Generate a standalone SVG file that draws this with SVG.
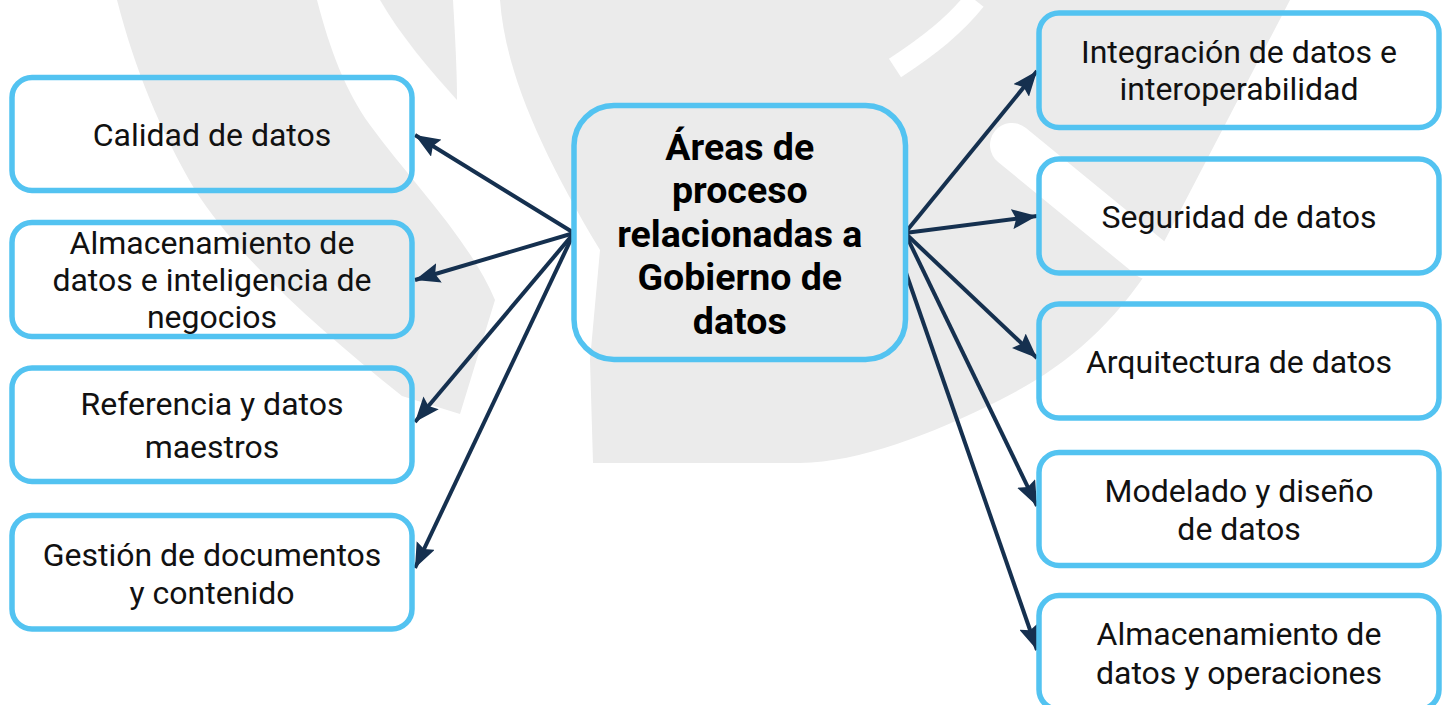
<svg xmlns="http://www.w3.org/2000/svg" width="1449" height="705" viewBox="0 0 1449 705">
  <defs>
    <style>
      .box { fill: none; stroke: #53C3F1; stroke-width: 5.5; }
      .txt { font-family: Roboto, "Liberation Sans", sans-serif; font-size: 32px; fill: #111; text-anchor: middle; }
      .title { font-family: Roboto, "Liberation Sans", sans-serif; font-size: 37.5px; font-weight: bold; fill: #000; text-anchor: middle; }
      .conn { stroke: #15304F; stroke-width: 4; fill: none; marker-end: url(#ah); }
      .wm { fill: #EBEBEB; }
    </style>
    <marker id="ah" markerUnits="userSpaceOnUse" markerWidth="26" markerHeight="20" refX="25" refY="10" orient="auto">
      <path d="M0,0 L25,10 L0,20 L4,10 z" fill="#15304F"/>
    </marker>
  </defs>
  <rect width="1449" height="705" fill="#FFFFFF"/>
  <g id="watermark">
    <path class="wm" d="M117,0 L317,0 C330,50 345,90 370,125 C410,180 470,240 495,300 L460,414 L402,396 C320,330 240,260 195,190 C160,130 135,70 117,0 Z"/>
    <path class="wm" d="M380,0 L453,0 C455,35 457,70 457,100 C430,70 400,35 380,0 Z"/>
    <path class="wm" d="M500,0 L1290,0 L1153,263 C1110,330 1060,370 1000,400 C930,435 860,462 800,463 L593,463 L590,360 L600,250 C540,150 505,70 500,0 Z"/>
    <path d="M1012,145 L1150,258" stroke="#FFFFFF" stroke-width="44" stroke-linecap="round" fill="none"/>
    <path d="M895,68 C930,45 955,25 975,0" stroke="#FFFFFF" stroke-width="22" fill="none"/>
  </g>
  <g id="connectors">
    <line class="conn" x1="574" y1="233" x2="415" y2="135"/>
    <line class="conn" x1="574" y1="233" x2="415" y2="280"/>
    <line class="conn" x1="574" y1="233" x2="415" y2="422"/>
    <line class="conn" x1="574" y1="233" x2="415" y2="568"/>
    <line class="conn" x1="905" y1="233" x2="1037" y2="71"/>
    <line class="conn" x1="905" y1="233" x2="1037" y2="216"/>
    <line class="conn" x1="905" y1="233" x2="1037" y2="358"/>
    <line class="conn" x1="905" y1="233" x2="1037" y2="506"/>
    <line class="conn" x1="905" y1="270" x2="1037" y2="650"/>
  </g>
  <g id="center">
    <rect class="box" x="574" y="105.5" width="331.5" height="254" rx="40"/>
    <text class="title" x="739.75" y="159.5">Áreas de</text>
    <text class="title" x="739.75" y="203">proceso</text>
    <text class="title" x="739.75" y="246.5">relacionadas a</text>
    <text class="title" x="739.75" y="290">Gobierno de</text>
    <text class="title" x="739.75" y="333.5">datos</text>
  </g>
  <g id="calidad">
    <rect class="box" x="12" y="77.5" width="400" height="113" rx="20"/>
    <text class="txt" x="212" y="146">Calidad de datos</text>
  </g>
  <g id="almacenamiento-bi">
    <rect class="box" x="12" y="222.5" width="400" height="114" rx="20"/>
    <text class="txt" x="212" y="254">Almacenamiento de</text>
    <text class="txt" x="212" y="291">datos e inteligencia de</text>
    <text class="txt" x="212" y="328">negocios</text>
  </g>
  <g id="referencia">
    <rect class="box" x="12" y="368" width="400" height="113.5" rx="20"/>
    <text class="txt" x="212" y="415">Referencia y datos</text>
    <text class="txt" x="212" y="457.5">maestros</text>
  </g>
  <g id="gestion">
    <rect class="box" x="12" y="515.5" width="400" height="113.5" rx="20"/>
    <text class="txt" x="212" y="566">Gestión de documentos</text>
    <text class="txt" x="212" y="604">y contenido</text>
  </g>
  <g id="integracion">
    <rect class="box" x="1039" y="13" width="400" height="114.5" rx="20"/>
    <text class="txt" x="1239" y="62.5">Integración de datos e</text>
    <text class="txt" x="1239" y="100">interoperabilidad</text>
  </g>
  <g id="seguridad">
    <rect class="box" x="1039" y="159" width="400" height="114" rx="20"/>
    <text class="txt" x="1239" y="228">Seguridad de datos</text>
  </g>
  <g id="arquitectura">
    <rect class="box" x="1039" y="304" width="400" height="114" rx="20"/>
    <text class="txt" x="1239" y="373">Arquitectura de datos</text>
  </g>
  <g id="modelado">
    <rect class="box" x="1039" y="452.5" width="400" height="113" rx="20"/>
    <text class="txt" x="1239" y="502">Modelado y diseño</text>
    <text class="txt" x="1239" y="539.5">de datos</text>
  </g>
  <g id="almacenamiento-op">
    <rect class="box" x="1039" y="595.5" width="400" height="114" rx="20"/>
    <text class="txt" x="1239" y="645">Almacenamiento de</text>
    <text class="txt" x="1239" y="683.5">datos y operaciones</text>
  </g>
</svg>
